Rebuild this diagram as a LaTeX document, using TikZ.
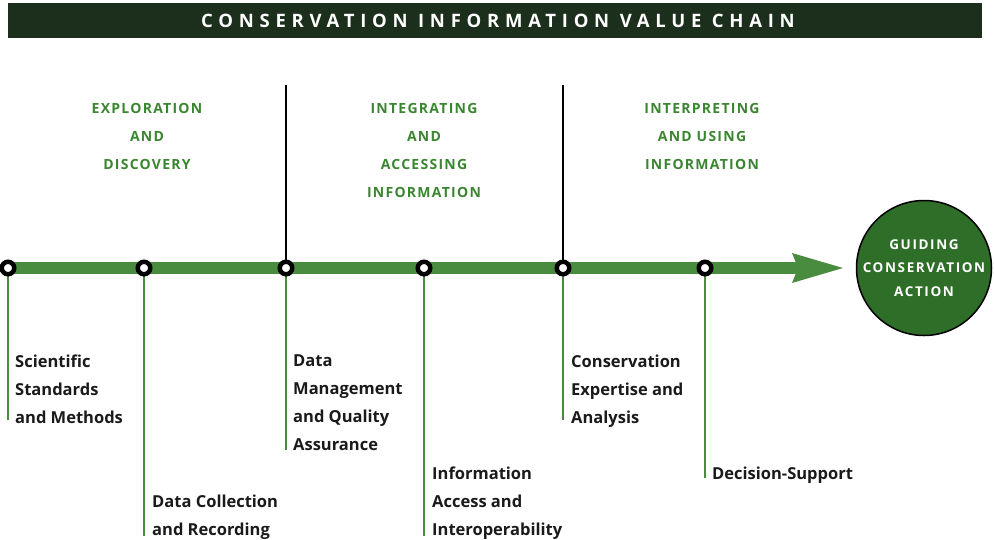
\documentclass[tikz,border=0pt]{standalone}
\usepackage{fontspec}
\setmainfont{Open Sans}
\newfontfamily\titlefont[LetterSpace=31]{Open Sans}
\newfontfamily\phasefont[LetterSpace=9]{Open Sans}
\newfontfamily\goalfont[LetterSpace=12]{Open Sans}
\usetikzlibrary{calc}
\definecolor{bandgreen}{HTML}{1C2E1C}
\definecolor{chaingreen}{HTML}{4A8C3F}
\definecolor{phasegreen}{HTML}{3A8630}
\definecolor{goalgreen}{HTML}{2E6E28}
\definecolor{textdark}{HTML}{1A1A1A}
\tikzset{
  ring/.style={circle, draw=black, line width=4.5pt, fill=white, minimum size=12.5pt, inner sep=0pt},
  phase/.style={align=center, text=phasegreen, font=\phasefont\bfseries\fontsize{14}{28}\selectfont},
  stage/.style={align=left, anchor=north west, text=textdark, inner sep=0pt, font=\bfseries\fontsize{16.5}{28}\selectfont},
  tick/.style={chaingreen, line width=1.3pt},
  divider/.style={black, line width=1.3pt},
}
\begin{document}
\begin{tikzpicture}[x=1pt,y=-1pt]
\useasboundingbox (0,0) rectangle (994,539);
% title band
\fill[bandgreen] (8,3) rectangle (982,38);
\node[text=white, font=\titlefont\bfseries\fontsize{18.5}{20}\selectfont] (title) at (498,20.5) {CONSERVATION INFORMATION VALUE CHAIN};

% chain anchors
\coordinate (c1) at (8,268);
\coordinate (c2) at (144,268);
\coordinate (c3) at (286,268);
\coordinate (c4) at (424,268);
\coordinate (c5) at (563,268);
\coordinate (c6) at (705,268);
\coordinate (shaftend) at (800,268);

% dividers between phases
\coordinate (d1) at (286,85);
\coordinate (d2) at (563,85);
\draw[divider] (d1) -- (c3);
\draw[divider] (d2) -- (c5);

% drop lines to the stages
\coordinate (e1) at (8,420);
\coordinate (e2) at (144,536);
\coordinate (e3) at (286,450);
\coordinate (e4) at (424,536);
\coordinate (e5) at (563,420);
\coordinate (e6) at (705,478);
\foreach \i in {1,...,6} \draw[tick] (c\i) -- (e\i);

% main shaft and arrow head
\draw[chaingreen, line width=12pt] (c1) -- (shaftend);
\fill[chaingreen] (792,253) -- (843,268) -- (792,283) -- (798,268) -- cycle;

% stage rings
\foreach \i in {1,...,6} \node[ring] (r\i) at (c\i) {};

% goal
\node[circle, draw=black, line width=1.5pt, fill=goalgreen, minimum size=135pt, inner sep=0pt,
      align=center, text=white, font=\goalfont\bfseries\fontsize{13.5}{23.5}\selectfont] (goal) at (924,268)
      {GUIDING\\CONSERVATION\\ACTION};

% phase headings
\node[phase] (p1) at (147,136) {EXPLORATION\\AND\\DISCOVERY};
\node[phase] (p2) at (424,150) {INTEGRATING\\AND\\ACCESSING\\INFORMATION};
\node[phase] (p3) at (702,136) {INTERPRETING\\AND USING\\INFORMATION};

% stage labels
\node[stage] (s1) at (15,355) {Scientific\\Standards\\and Methods};
\node[stage] (s2) at (152,495) {Data Collection\\and Recording};
\node[stage] (s3) at (293,355) {Data\\Management\\and Quality\\Assurance};
\node[stage] (s4) at (432,467) {Information\\Access and\\Interoperability};
\node[stage] (s5) at (571,355) {Conservation\\Expertise and\\Analysis};
\node[stage] (s6) at (712,467) {Decision-Support};
\end{tikzpicture}
\end{document}
